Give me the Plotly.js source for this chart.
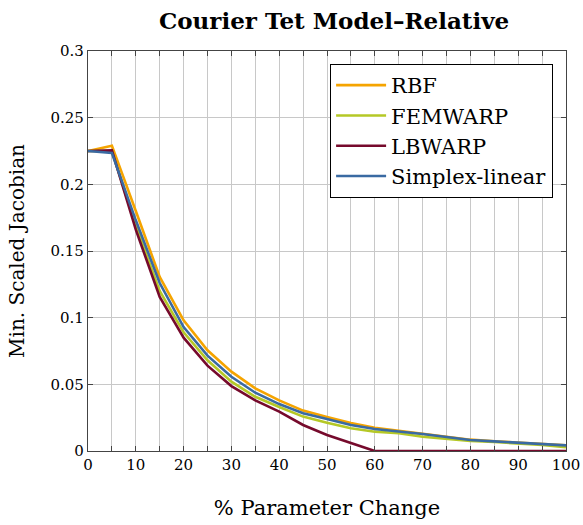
<!DOCTYPE html>
<html><head><meta charset="utf-8">
<script src="https://cdn.plot.ly/plotly-3.0.1.min.js"></script>
<style>body{margin:0;background:#fff}#c{width:583px;height:525px}</style>
</head><body><div id="c"></div>
<script>
const pct = [0,5,10,15,20,25,30,35,40,45,50,55,60,65,70,75,80,85,90,95,100];
const rbf      = [0.225,0.229,0.180,0.1305,0.098,0.0755,0.0595,0.047,0.038,0.0303,0.0255,0.021,0.0175,0.0152,0.0128,0.0106,0.0085,0.0073,0.0063,0.0056,0.0043];
const femwarp  = [0.225,0.225,0.169,0.120,0.089,0.068,0.052,0.0407,0.033,0.0258,0.0212,0.017,0.0145,0.0133,0.0107,0.009,0.0075,0.0067,0.0057,0.0045,0.0028];
const lbwarp   = [0.225,0.2255,0.166,0.1155,0.085,0.064,0.0487,0.038,0.0295,0.0195,0.012,0.0062,0,0,0,0,0,0,0,0,0];
const simplex  = [0.225,0.2235,0.173,0.126,0.093,0.0715,0.0557,0.0437,0.0352,0.0283,0.024,0.0195,0.0165,0.0148,0.0127,0.0105,0.0083,0.0072,0.0062,0.0055,0.0042];
const names = ['RBF','FEMWARP','LBWARP','Simplex-linear'];
const colors = ['#f5a400','#b5c826','#760a2c','#3a6aa2'];
const series = [rbf, femwarp, lbwarp, simplex];
const FONT = "'DejaVu Serif', serif";
const traces = series.map((s,i)=>({x:pct,y:s,type:'scatter',mode:'lines',name:names[i],line:{color:colors[i],width:2.6}}));
const axisCommon = {showline:true,linecolor:'#444',linewidth:1.2,mirror:'ticks',ticks:'inside',ticklen:5,tickcolor:'#444',gridcolor:'#c8c8c8',gridwidth:1,zeroline:false,tickfont:{family:FONT,size:15,color:'#000'}};
const layout = {
  width:583,height:525,margin:{l:88,r:17,t:51,b:74},
  paper_bgcolor:'#fff',plot_bgcolor:'#fff',
  font:{family:FONT,color:'#000'},
  title:{text:'<b>Courier Tet Model–Relative</b>',font:{size:23,family:FONT},x:0.573,xanchor:'center',y:0.96,yanchor:'middle'},
  xaxis:Object.assign({},axisCommon,{range:[0,100],dtick:10,tick0:0,
    minor:{dtick:5,ticks:'inside',ticklen:5,tickcolor:'#444',showgrid:true,gridcolor:'#c8c8c8'},
    title:{text:'% Parameter Change',font:{size:21,family:FONT},standoff:27}}),
  yaxis:Object.assign({},axisCommon,{range:[0,0.3],dtick:0.05,tick0:0,
    title:{text:'Min. Scaled Jacobian',font:{size:20,family:FONT},standoff:20}}),
  legend:{x:0.973,y:0.9675,xanchor:'right',yanchor:'top',bgcolor:'#fff',bordercolor:'#000',borderwidth:1,font:{size:21,family:FONT},tracegroupgap:0,itemwidth:50},
  showlegend:true
};
Plotly.newPlot('c',traces,layout,{staticPlot:true});
</script></body></html>
